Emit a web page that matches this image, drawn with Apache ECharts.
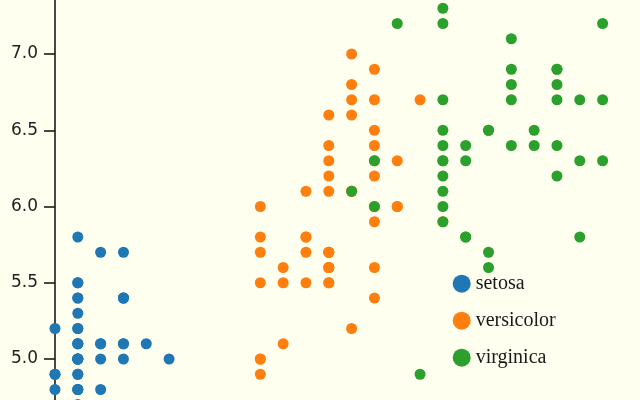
<!DOCTYPE html>
<html>
<head>
<meta charset="utf-8">
<script src="https://cdn.jsdelivr.net/npm/echarts@6/dist/echarts.min.js"></script>
<style>
  html, body { margin: 0; padding: 0; width: 640px; height: 400px; overflow: hidden; background: #fffff0; }
  #chart { position: absolute; left: 0; top: -110px; width: 640px; height: 640px; }
</style>
</head>
<body>
<div id="chart"></div>
<script>
// Iris data: x = petal width, y = sepal length
const speciesNames = ['setosa', 'versicolor', 'virginica'];
const speciesColors = ['#1f77b4', '#ff7f0e', '#2ca02c'];

const setosaPetalWidth = [0.2,0.2,0.2,0.2,0.2,0.4,0.3,0.2,0.2,0.1,0.2,0.2,0.1,0.1,0.2,0.4,0.4,0.3,0.3,0.3,0.2,0.4,0.2,0.5,0.2,0.2,0.4,0.2,0.2,0.2,0.2,0.4,0.1,0.2,0.2,0.2,0.2,0.1,0.2,0.2,0.3,0.3,0.2,0.6,0.4,0.3,0.2,0.2,0.2,0.2];
const setosaSepalLength = [5.1,4.9,4.7,4.6,5.0,5.4,4.6,5.0,4.4,4.9,5.4,4.8,4.8,4.3,5.8,5.7,5.4,5.1,5.7,5.1,5.4,5.1,4.6,5.1,4.8,5.0,5.0,5.2,5.2,4.7,4.8,5.4,5.2,5.5,4.9,5.0,5.5,4.9,4.4,5.1,5.0,4.5,4.4,5.0,5.1,4.8,5.1,4.6,5.3,5.0];

const versicolorPetalWidth = [1.4,1.5,1.5,1.3,1.5,1.3,1.6,1.0,1.3,1.4,1.0,1.5,1.0,1.4,1.3,1.4,1.5,1.0,1.5,1.1,1.8,1.3,1.5,1.2,1.3,1.4,1.4,1.7,1.5,1.0,1.1,1.0,1.2,1.6,1.5,1.6,1.5,1.3,1.3,1.3,1.2,1.4,1.2,1.0,1.3,1.2,1.3,1.3,1.1,1.3];
const versicolorSepalLength = [7.0,6.4,6.9,5.5,6.5,5.7,6.3,4.9,6.6,5.2,5.0,5.9,6.0,6.1,5.6,6.7,5.6,5.8,6.2,5.6,5.9,6.1,6.3,6.1,6.4,6.6,6.8,6.7,6.0,5.7,5.5,5.5,5.8,6.0,5.4,6.0,6.7,6.3,5.6,5.5,5.5,6.1,5.8,5.0,5.6,5.7,5.7,6.2,5.1,5.7];

const virginicaPetalWidth = [2.5,1.9,2.1,1.8,2.2,2.1,1.7,1.8,1.8,2.5,2.0,1.9,2.1,2.0,2.4,2.3,1.8,2.2,2.3,1.5,2.3,2.0,2.0,1.8,2.1,1.8,1.8,1.8,2.1,1.6,1.9,2.0,2.2,1.5,1.4,2.3,2.4,1.8,1.8,2.1,2.4,2.3,1.9,2.3,2.5,2.3,1.9,2.0,2.3,1.8];
const virginicaSepalLength = [6.3,5.8,7.1,6.3,6.5,7.6,4.9,7.3,6.7,7.2,6.5,6.4,6.8,5.7,5.8,6.4,6.5,7.7,7.7,6.0,6.9,5.6,7.7,6.3,6.7,7.2,6.2,6.1,6.4,7.2,7.4,7.9,6.4,6.3,6.1,7.7,6.3,6.4,6.0,6.9,6.7,6.9,5.8,6.8,6.7,6.7,6.3,6.5,6.2,5.9];

const yTicks = [4.0, 4.5, 5.0, 5.5, 6.0, 6.5, 7.0, 7.5, 8.0];

function pairs(xs, ys) { return xs.map((x, i) => [x, ys[i]]); }
const seriesData = [
  pairs(setosaPetalWidth, setosaSepalLength),
  pairs(versicolorPetalWidth, versicolorSepalLength),
  pairs(virginicaPetalWidth, virginicaSepalLength)
];

const chart = echarts.init(document.getElementById('chart'), null, { renderer: 'canvas' });
chart.setOption({
  backgroundColor: '#fffff0',
  animation: false,
  grid: { left: 55, right: 37.4, top: 11.5, bottom: 18.5, containLabel: false },
  xAxis: {
    type: 'value', min: 0.1, max: 2.5,
    splitLine: { show: false },
    axisLine: { show: true, lineStyle: { color: '#222', width: 1.5 } },
    axisTick: { show: true },
    axisLabel: { show: false }
  },
  yAxis: {
    type: 'value', min: yTicks[0], max: yTicks[yTicks.length - 1], interval: 0.5,
    splitLine: { show: false },
    axisLine: { show: true, onZero: false, lineStyle: { color: '#1a1a1a', width: 1.6 } },
    axisTick: { show: true, length: 11, lineStyle: { color: '#1a1a1a', width: 1.6 } },
    axisLabel: {
      margin: 17, color: '#222', fontFamily: 'DejaVu Sans', fontSize: 17,
      formatter: v => v.toFixed(1)
    }
  },
  legend: {
    orient: 'vertical', left: 447.7, top: 378.7,
    itemWidth: 18, itemHeight: 18, itemGap: 17,
    icon: 'circle',
    textStyle: { fontFamily: 'Liberation Serif', fontSize: 20, color: '#1a1a1a', lineHeight: 18, padding: [0, 0, 0, 0] },
    data: speciesNames
  },
  series: speciesNames.map((name, i) => ({
    name: name,
    type: 'scatter',
    symbol: 'circle',
    symbolSize: 11,
    clip: false,
    itemStyle: { color: speciesColors[i], opacity: 1 },
    emphasis: { disabled: true },
    data: seriesData[i]
  }))
});
</script>
</body>
</html>
